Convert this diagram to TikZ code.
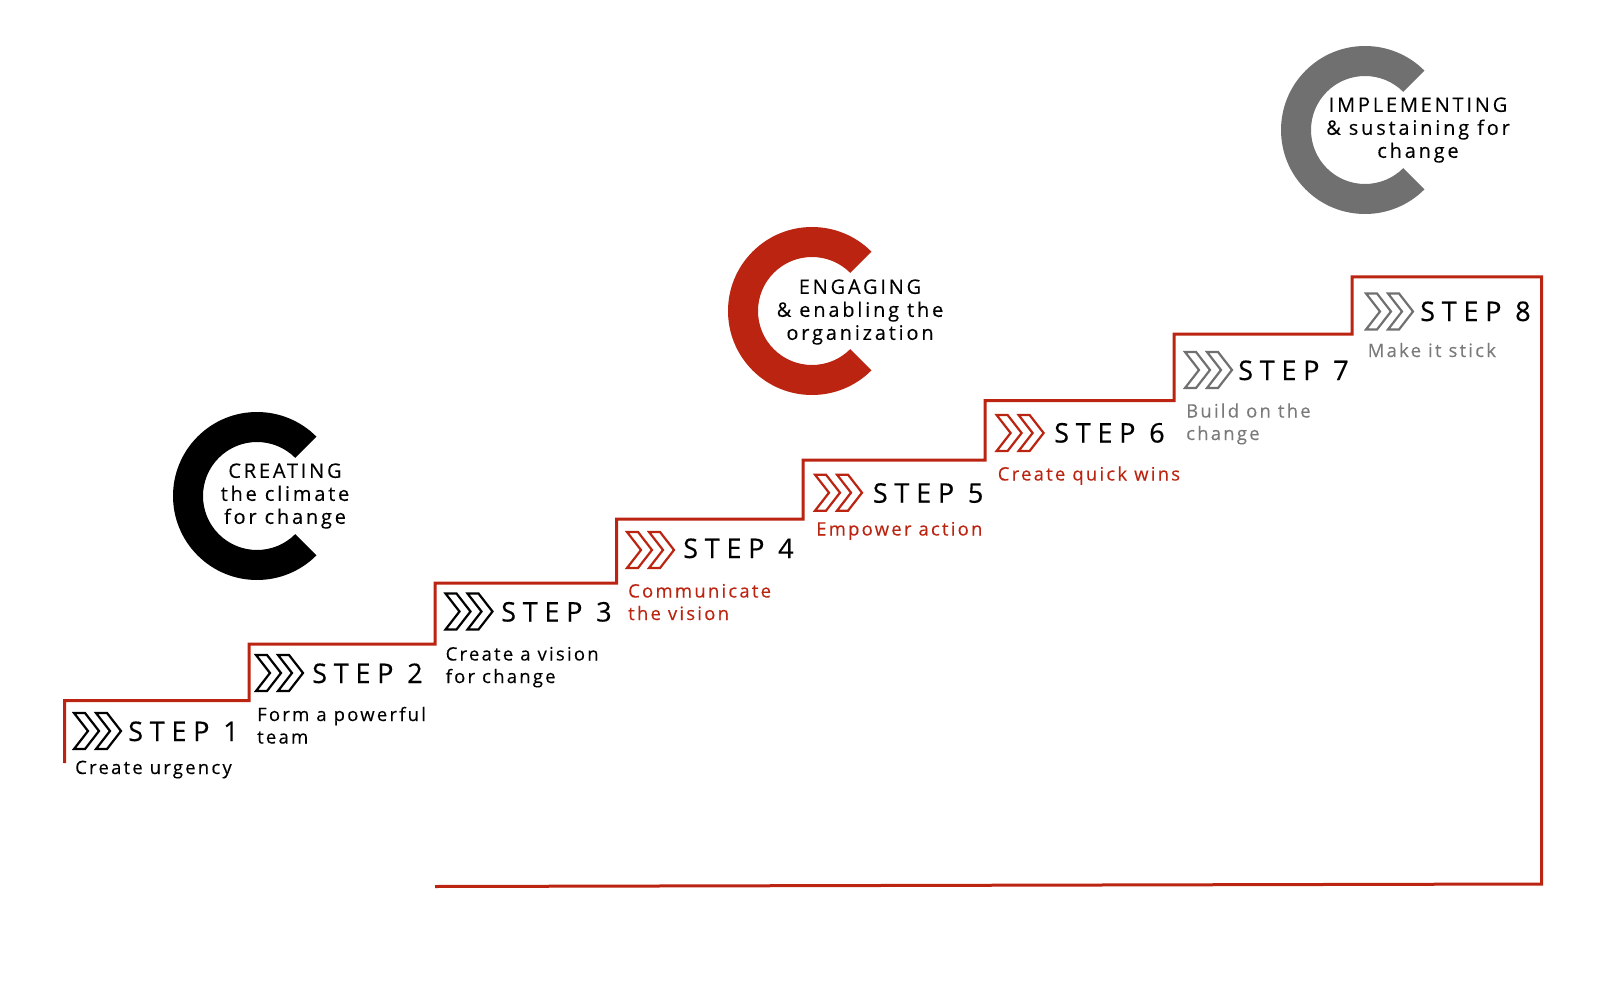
\documentclass[tikz,border=0pt]{standalone}
\usepackage{fontspec}
\setmainfont{Open Sans}
\newfontfamily\stepfont[LetterSpace=25,FakeBold=0.4]{Open Sans}
\newfontfamily\subfont[LetterSpace=12,FakeBold=0.2]{Open Sans}
\newfontfamily\cfont[LetterSpace=14,FakeBold=0.2]{Open Sans}
\definecolor{kred}{RGB}{186,36,16}
\definecolor{kgray}{RGB}{112,112,112}
\definecolor{kgraytext}{RGB}{122,122,122}
\newcommand\chevpair[3]{%
  \draw[chev,#3] (#1,#2) -- ++(11,0) -- ++(14,18) -- ++(-14,18) -- ++(-11,0) -- ++(14,-18) -- cycle;
  \draw[chev,#3] (#1+22,#2) -- ++(11,0) -- ++(14,18) -- ++(-14,18) -- ++(-11,0) -- ++(14,-18) -- cycle;}
\newcommand\bigC[4]{%
  \fill[#4] (#1,#2) ++(45:84) arc[start angle=45, end angle=315, radius=84]
    -- ($(#1,#2)+(315:54)$) arc[start angle=315, end angle=45, radius=54] -- cycle;
  \coordinate (#3) at (#1,#2);}
\usetikzlibrary{calc}
\begin{document}
\begin{tikzpicture}[x=1pt,y=-1pt,
  steplbl/.style={anchor=base west, inner sep=0, text=black, font=\stepfont\fontsize{27}{30}\selectfont},
  sublbl/.style={anchor=base west, inner sep=0, align=left, font=\subfont\fontsize{18.5}{22.5}\selectfont},
  ctext/.style={inner sep=0, align=center, font=\cfont\fontsize{20}{23}\selectfont},
  stair/.style={draw=kred, line width=3pt, line join=miter},
  chev/.style={line width=2.2pt, line join=miter}]
\useasboundingbox (0,0) rectangle (1606,1000);

% big C shapes
\bigC{257}{496}{cA}{black}
\bigC{812}{311}{cB}{kred}
\bigC{1365}{130}{cC}{kgray}
\node[ctext] (tA) at (285,496) {CREATING\\the climate\\for change};
\node[ctext] (tB) at (860,312) {ENGAGING\\\& enabling the\\organization};
\node[ctext] (tC) at (1418,130) {IMPLEMENTING\\\& sustaining for\\change};

% staircase
\coordinate (b0) at (64.5,763);
\coordinate (b1) at (435,886.5);
\coordinate (b2) at (1541.5,884);
\draw[stair] (b0) -- (64.5,700.5) -- (249,700.5) -- (249,644) -- (435,644) -- (435,583)
  -- (616.5,583) -- (616.5,519) -- (803,519) -- (803,460) -- (985,460) -- (985,400.5)
  -- (1174,400.5) -- (1174,334) -- (1352,334) -- (1352,277) -- (1541.5,277) -- (b2) -- (b1);

% step 1
\chevpair{74}{713}{black}
\node[steplbl] (s1) at (128,741) {STEP 1};
\node[sublbl] (d1) at (75,774) {Create urgency};
% step 2
\chevpair{256}{655}{black}
\node[steplbl] (s2) at (312,683) {STEP 2};
\node[sublbl] (d2) at (257,743.5) {Form a powerful\\team};
% step 3
\chevpair{445.5}{593.5}{black}
\node[steplbl] (s3) at (501,621.5) {STEP 3};
\node[sublbl] (d3) at (445.5,683) {Create a vision\\for change};
% step 4
\chevpair{627}{532}{kred}
\node[steplbl] (s4) at (683,558) {STEP 4};
\node[sublbl,text=kred] (d4) at (628,620) {Communicate\\the vision};
% step 5
\chevpair{815}{474.7}{kred}
\node[steplbl] (s5) at (872.7,502.7) {STEP 5};
\node[sublbl,text=kred] (d5) at (816,535.5) {Empower action};
% step 6
\chevpair{996.6}{415}{kred}
\node[steplbl] (s6) at (1054,442.5) {STEP 6};
\node[sublbl,text=kred] (d6) at (997.6,480.5) {Create quick wins};
% step 7
\chevpair{1185}{352}{kgray}
\node[steplbl] (s7) at (1238,380) {STEP 7};
\node[sublbl,text=kgraytext] (d7) at (1186,440) {Build on the\\change};
% step 8
\chevpair{1366}{293.5}{kgray}
\node[steplbl] (s8) at (1420,321) {STEP 8};
\node[sublbl,text=kgraytext] (d8) at (1367.5,357) {Make it stick};
\end{tikzpicture}
\end{document}
